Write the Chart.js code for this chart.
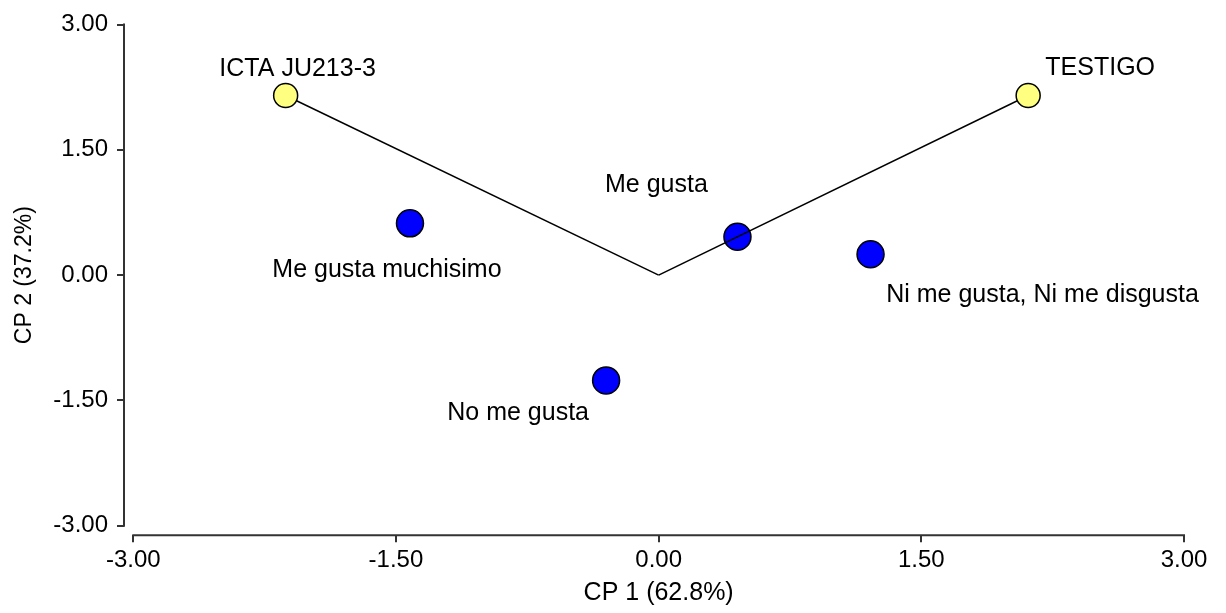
<!DOCTYPE html>
<html>
<head>
<meta charset="utf-8">
<title>Biplot CP1 / CP2</title>
<script src="https://cdn.jsdelivr.net/npm/chart.js@4.4.1/dist/chart.umd.min.js"></script>
<style>
  html, body { margin: 0; padding: 0; background: #ffffff; }
  canvas { display: block; }
</style>
</head>
<body>
<canvas id="biplot" width="1226" height="613"></canvas>
<script>
// Biplot scores: varieties are drawn as vectors from the origin,
// hedonic response categories as filled markers.
const varieties = ['ICTA JU213-3', 'TESTIGO'];
const varietyCP1 = [-2.13, 2.11];
const varietyCP2 = [2.15, 2.15];

const responses = ['Me gusta muchisimo', 'Me gusta', 'Ni me gusta, Ni me disgusta', 'No me gusta'];
const responseCP1 = [-1.42, 0.45, 1.21, -0.30];
const responseCP2 = [0.62, 0.46, 0.25, -1.26];

const origin = [0, 0];
const axisTicks = [-3, -1.5, 0, 1.5, 3];
const xTitle = 'CP 1 (62.8%)';
const yTitle = 'CP 2 (37.2%)';

// Label placement relative to each marker, in pixels [dx, dy] of the label centre
const varietyLabelOffsets = [[12, -26], [72, -27]];
const responseLabelOffsets = [[-23, 47], [-81, -52], [172, 41], [-88, 33]];

const FONT_FAMILY = '"Liberation Sans", Arial, Helvetica, sans-serif';
const AXIS_COLOR = '#333333';

const varietyPoints = varieties.map((_, i) => ({ x: varietyCP1[i], y: varietyCP2[i] }));
const responsePoints = responses.map((_, i) => ({ x: responseCP1[i], y: responseCP2[i] }));
const originPoint = { x: origin[0], y: origin[1] };

// Axis lines run only over the tick range, detached from each other at the corner
const axisLines = {
  id: 'axisLines',
  afterDraw(chart) {
    const { ctx, chartArea, scales: { x, y } } = chart;
    const lo = axisTicks[0];
    const hi = axisTicks[axisTicks.length - 1];
    ctx.save();
    ctx.strokeStyle = AXIS_COLOR;
    ctx.lineWidth = 2;
    ctx.beginPath();
    ctx.moveTo(chartArea.left, y.getPixelForValue(hi) - 1);
    ctx.lineTo(chartArea.left, y.getPixelForValue(lo) + 1);
    ctx.moveTo(x.getPixelForValue(lo) - 1, chartArea.bottom);
    ctx.lineTo(x.getPixelForValue(hi) + 1, chartArea.bottom);
    ctx.stroke();
    ctx.restore();
  }
};

// Text labels next to every marker
const pointLabels = {
  id: 'pointLabels',
  afterDatasetsDraw(chart) {
    const { ctx } = chart;
    const groups = [
      { index: 0, names: varieties, offsets: varietyLabelOffsets },
      { index: chart.data.datasets.length - 1, names: responses, offsets: responseLabelOffsets }
    ];
    ctx.save();
    ctx.font = '25px ' + FONT_FAMILY;
    ctx.fillStyle = '#000000';
    ctx.textAlign = 'center';
    ctx.textBaseline = 'middle';
    groups.forEach(g => {
      const meta = chart.getDatasetMeta(g.index);
      meta.data.forEach((el, j) => {
        const [dx, dy] = g.offsets[j];
        ctx.fillText(g.names[j], el.x + dx, el.y + dy);
      });
    });
    ctx.restore();
  }
};

Chart.defaults.color = '#000000';
Chart.defaults.font.family = FONT_FAMILY;

new Chart(document.getElementById('biplot'), {
  type: 'scatter',
  data: {
    datasets: [
      {
        label: 'Variedades',
        data: varietyPoints,
        pointRadius: 12,
        pointBackgroundColor: '#FFFF80',
        pointBorderColor: '#000000',
        pointBorderWidth: 1.5,
        showLine: false
      },
      ...varietyPoints.map((p, i) => ({
        label: 'Vector ' + varieties[i],
        data: [originPoint, p],
        showLine: true,
        pointRadius: 0,
        borderColor: '#000000',
        borderWidth: 1.5,
        fill: false
      })),
      {
        label: 'Respuestas',
        data: responsePoints,
        pointRadius: 13.5,
        pointBackgroundColor: '#0000FF',
        pointBorderColor: '#000000',
        pointBorderWidth: 1.5,
        showLine: false
      }
    ]
  },
  options: {
    responsive: false,
    animation: false,
    events: [],
    devicePixelRatio: 1,
    layout: { padding: { top: 10.4, right: 32.7, bottom: 0, left: 0 } },
    plugins: {
      legend: { display: false },
      tooltip: { enabled: false }
    },
    scales: {
      x: {
        type: 'linear',
        position: 'bottom',
        min: -3.053,
        max: 3.053,
        afterBuildTicks: s => { s.ticks = axisTicks.map(v => ({ value: v })); },
        afterFit: s => { s.height = 77.7; s.paddingLeft = 0; s.paddingRight = 0; },
        border: { display: false },
        grid: { drawOnChartArea: false, drawTicks: true, tickLength: 7, color: AXIS_COLOR, lineWidth: 2 },
        ticks: {
          autoSkip: false,
          maxRotation: 0,
          padding: 4,
          color: '#000000',
          font: { size: 24 },
          callback: v => Number(v).toFixed(2)
        },
        title: {
          display: true,
          text: xTitle,
          color: '#000000',
          font: { size: 25 },
          padding: { top: 0, bottom: 5 }
        }
      },
      y: {
        type: 'linear',
        position: 'left',
        min: -3.114,
        max: 3.114,
        afterBuildTicks: s => { s.ticks = axisTicks.map(v => ({ value: v })); },
        afterFit: s => { s.width = 124; s.paddingTop = 0; s.paddingBottom = 0; },
        border: { display: false },
        grid: { drawOnChartArea: false, drawTicks: true, tickLength: 7, color: AXIS_COLOR, lineWidth: 2 },
        ticks: {
          autoSkip: false,
          padding: 9,
          color: '#000000',
          font: { size: 24 },
          callback: v => Number(v).toFixed(2)
        },
        title: {
          display: true,
          text: yTitle,
          color: '#000000',
          font: { size: 23 },
          padding: { top: 11, bottom: 0 }
        }
      }
    }
  },
  plugins: [axisLines, pointLabels]
});
</script>
</body>
</html>
